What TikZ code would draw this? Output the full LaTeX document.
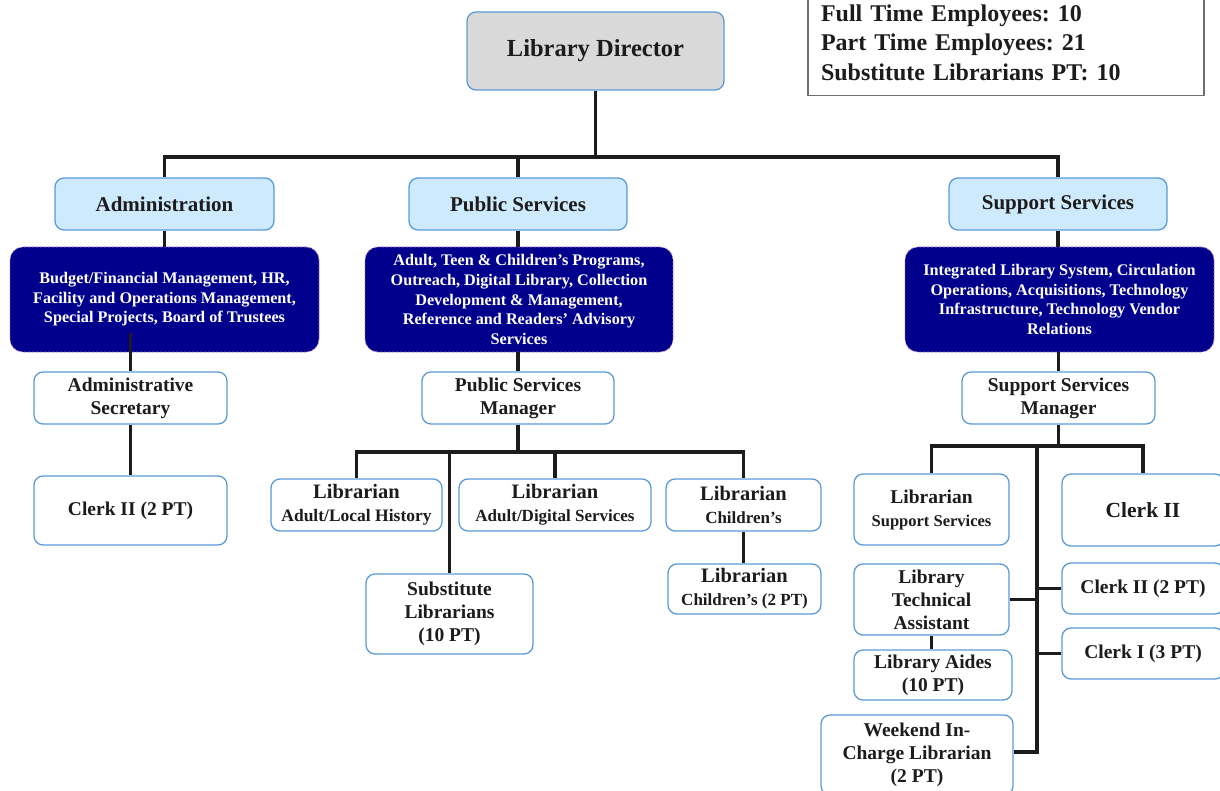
\documentclass[tikz,border=0pt]{standalone}
\usepackage{fontspec}
\setmainfont{Liberation Serif}
\frenchspacing
\definecolor{ink}{HTML}{1E1B1C}
\definecolor{edgeblue}{HTML}{5B9BD5}
\definecolor{headfill}{HTML}{CDEBFC}
\definecolor{dirfill}{HTML}{D9D9D9}
\definecolor{navyfill}{HTML}{00008C}
\definecolor{navyedge}{HTML}{B070C0}
\definecolor{statedge}{HTML}{6E6E6E}
\newcommand{\sizept}[2]{\fontsize{#1}{#2}\selectfont}
\begin{document}
\begin{tikzpicture}[x=1pt,y=-1pt,
  sz/.style 2 args={minimum width=#1pt, minimum height=#2pt},
  card/.style={draw=edgeblue, line width=1.3pt, rounded corners=9pt, fill=white,
    align=center, text=ink, inner sep=0pt, font=\bfseries\sizept{19.5}{23}},
  dirbox/.style={card, fill=dirfill, font=\bfseries\sizept{24.5}{28}},
  headbox/.style={card, fill=headfill, font=\bfseries\sizept{21}{25}},
  dutybox/.style={draw=navyedge, dashed, dash pattern=on 2pt off 2pt, line width=0.8pt,
    rounded corners=13pt, fill=navyfill, text=white, align=center, inner sep=0pt,
    font=\bfseries\sizept{16.2}{19.6}},
  wire/.style={draw=ink, line width=3.6pt}
]
\useasboundingbox (0,0) rectangle (1220,791);

% staff totals
\node[draw=statedge, line width=1.2pt, sz={396}{106}, text width=370pt, inner xsep=13pt,
  align=left, text=ink, font=\bfseries\sizept{24}{29.5}] (stats) at (1006,42.5)
  {Full Time Employees: 10\\Part Time Employees: 21\\Substitute Librarians PT: 10};

% top of the chart
\node[dirbox, sz={257}{78}] (dir) at (595.5,51) {Library Director};

\node[headbox, sz={219}{52}] (adm) at (164.5,204) {Administration};
\node[headbox, sz={218}{52}] (pub) at (518,204) {Public Services};
\node[headbox, sz={218}{52}] (sup) at (1058,204) {Support Services};

% areas of responsibility
\node[dutybox, sz={309}{105}] (admn) at (164.5,299.5)
  {Budget/Financial Management, HR,\\Facility and Operations Management,\\Special Projects, Board of Trustees};
\node[dutybox, sz={308}{105}] (pubn) at (519,299.5)
  {Adult, Teen \& Children’s Programs,\\Outreach, Digital Library, Collection\\Development \& Management,\\Reference and Readers’ Advisory\\Services};
\node[dutybox, sz={309}{105}] (supn) at (1059.5,299.5)
  {Integrated Library System, Circulation\\Operations, Acquisitions, Technology\\Infrastructure, Technology Vendor\\Relations};

% administration
\node[card, sz={193}{52}] (sec) at (130.5,398) {Administrative\\Secretary};
\node[card, sz={193}{69}] (clerkA) at (130.5,510.5) {Clerk II (2 PT)};

% public services
\node[card, sz={192}{52}] (psm) at (518,398) {Public Services\\Manager};
\node[card, sz={171}{52}] (libA) at (356.5,505)
  {{\sizept{20.5}{22}Librarian}\\{\sizept{17.5}{19}Adult/Local History}};
\node[card, sz={192}{52}] (libD) at (555,505)
  {{\sizept{20.5}{22}Librarian}\\{\sizept{17}{19}Adult/Digital Services}};
\node[card, sz={155}{52}] (libC) at (743.5,505)
  {{\sizept{20.5}{22}Librarian}\\{\sizept{17}{19}Children’s}};
\node[card, sz={153}{50}] (libC2) at (744.5,589)
  {{\sizept{20.5}{22}Librarian}\\{\sizept{17}{19}Children’s (2 PT)}};
\node[card, sz={167}{80}] (sub) at (449.5,614) {Substitute\\Librarians\\(10 PT)};

% support services
\node[card, sz={193}{52}] (ssm) at (1058.5,398) {Support Services\\Manager};
\node[card, sz={155}{71}] (libS) at (931.5,509.5)
  {{\sizept{19.5}{21}Librarian}\\{\sizept{16.5}{19}Support Services}};
\node[card, sz={162}{72}, font=\bfseries\sizept{21.5}{25}] (clerkS) at (1143,510) {Clerk II};
\node[card, sz={155}{71}] (lta) at (931.5,599.5) {Library\\Technical\\Assistant};
\node[card, sz={158}{50}] (aides) at (933,675) {Library Aides\\(10 PT)};
\node[card, sz={192}{80}] (wk) at (917,755) {Weekend In-\\Charge Librarian\\(2 PT)};
\node[card, sz={162}{51}] (c2) at (1143,588.5) {Clerk II (2 PT)};
\node[card, sz={162}{51}] (c1) at (1143,653.5) {Clerk I (3 PT)};

% junction points
\coordinate (busT) at (595.5,157);
\coordinate (admtail) at (130.5,333);
\coordinate (busP) at (518,452);
\coordinate (busS) at (1058.5,446);
\coordinate (trunkT) at (1037,446);
\coordinate (trunkB) at (1037,752);

% reporting lines
\draw[wire] (dir.south) -- (busT);
\draw[wire] (adm.north) |- (busT) -| (sup.north);
\draw[wire] (pub.north) -- (pub.north |- busT);

\draw[wire] (adm.south) -- (admn.north);
\draw[wire] (pub.south) -- (pub.south |- pubn.north);
\draw[wire] (sup.south) -- (sup.south |- supn.north);

\draw[wire] (admtail) -- (sec.north);
\draw[wire] (sec.south) -- (clerkA.north);

\draw[wire] (psm.north |- pubn.south) -- (psm.north);
\draw[wire] (psm.south) -- (busP);
\draw[wire] (libA.north) |- (busP) -| (libC.north);
\draw[wire] (libD.north) -- (libD.north |- busP);
\draw[wire] (sub.north) -- (sub.north |- busP);
\draw[wire] (libC.south) -- (libC.south |- libC2.north);

\draw[wire] (ssm.north |- supn.south) -- (ssm.north);
\draw[wire] (ssm.south) -- (busS);
\draw[wire] (libS.north) |- (busS) -| (clerkS.north);
\draw[wire] (trunkT) -- (trunkB) -- (wk.east |- trunkB);
\draw[wire] (lta.east) -- (lta.east -| trunkT);
\draw[wire] (c2.west) -- (c2.west -| trunkT);
\draw[wire] (c1.west) -- (c1.west -| trunkT);
\draw[wire] (lta.south) -- (lta.south |- aides.north);
\end{tikzpicture}
\end{document}
